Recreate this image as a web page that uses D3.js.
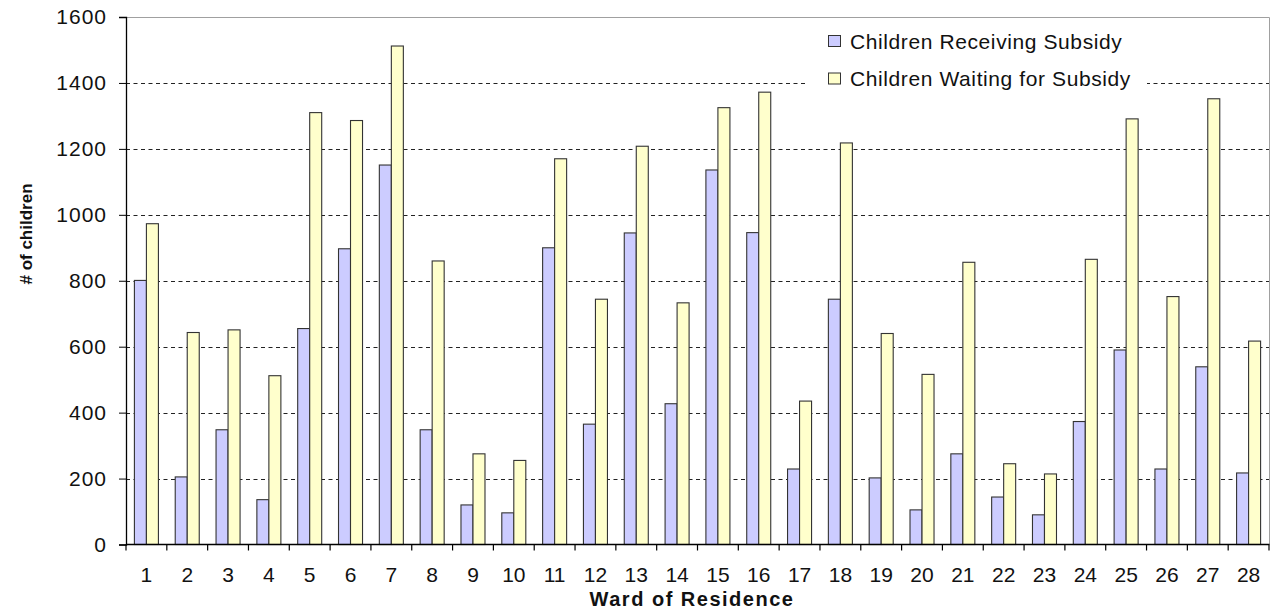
<!DOCTYPE html>
<html>
<head>
<meta charset="utf-8">
<script src="https://cdn.jsdelivr.net/npm/d3@7"></script>
<style>
  html, body { margin: 0; padding: 0; background: #fff; }
  svg { display: block; }
  text { font-family: "Liberation Sans", Arial, sans-serif; fill: #111; }
</style>
</head>
<body>
<svg id="chart" width="1276" height="611"></svg>
<script>
const wards = ["1","2","3","4","5","6","7","8","9","10","11","12","13","14","15","16","17","18","19","20","21","22","23","24","25","26","27","28"];
const receiving = [801, 205, 348, 136, 655, 897, 1151, 348, 120, 96, 900, 365, 945, 427, 1136, 946, 229, 744, 202, 105, 275, 144, 90, 373, 590, 229, 539, 217];
const waiting = [973, 643, 651, 512, 1310, 1286, 1512, 860, 275, 255, 1170, 744, 1208, 733, 1325, 1372, 435, 1218, 640, 516, 856, 245, 214, 865, 1291, 752, 1352, 617];
const seriesNames = ["Children Receiving Subsidy", "Children Waiting for Subsidy"];
const seriesColors = ["#ccccff", "#ffffcc"];
const yTicks = [0, 200, 400, 600, 800, 1000, 1200, 1400, 1600];

const svg = d3.select("#chart");
const L = 126, R = 1269, T = 17, B = 544.5;

const x0 = d3.scaleBand().domain(wards).range([L, R]).paddingInner(0).paddingOuter(0);
const x1 = d3.scaleBand().domain([0, 1]).range([0, x0.bandwidth()]).paddingInner(0).paddingOuter(0.7);
const y = d3.scaleLinear().domain([0, 1600]).range([B, T]);

// gridlines
svg.append("g").selectAll("line").data(yTicks.filter(v => v > 0 && v < 1600)).join("line")
  .attr("x1", L).attr("x2", R)
  .attr("y1", d => Math.round(y(d)) + 0.5).attr("y2", d => Math.round(y(d)) + 0.5)
  .attr("stroke", "#222").attr("stroke-width", 1.2).attr("stroke-dasharray", "4,3.5");

// plot border top & right
svg.append("path")
  .attr("d", `M${L},${T + 0.5}H${R + 0.5}V${B}`)
  .attr("fill", "none").attr("stroke", "#a0a0a0").attr("stroke-width", 1);

// legend background (white, covers gridline)
const legend = svg.append("g");
legend.append("rect").attr("x", 806).attr("y", 20).attr("width", 341).attr("height", 76).attr("fill", "#fff");

// bars
const data = wards.map((w, i) => ({ w, vals: [receiving[i], waiting[i]] }));
const groups = svg.append("g").selectAll("g").data(data).join("g")
  .attr("transform", d => `translate(${x0(d.w)},0)`);
groups.selectAll("rect").data(d => d.vals.map((v, k) => ({ v, k }))).join("rect")
  .attr("x", d => x1(d.k))
  .attr("width", x1.bandwidth())
  .attr("y", d => y(d.v))
  .attr("height", d => y(0) - y(d.v))
  .attr("fill", d => seriesColors[d.k])
  .attr("stroke", "#333").attr("stroke-width", 1.1);

// y axis
const yAxis = d3.axisLeft(y).tickValues(yTicks).tickSize(7).tickPadding(12).tickFormat(d3.format("d"));
const gy = svg.append("g").attr("transform", `translate(${L},0)`).call(yAxis);
gy.select(".domain").attr("stroke", "#000").attr("stroke-width", 1.3);
gy.selectAll(".tick line").attr("stroke", "#000");
gy.selectAll(".tick text").attr("font-size", 21).attr("letter-spacing", "1px")
  .attr("fill", "#222").style("font-family", "'Liberation Sans', Arial, sans-serif");

// x axis
const xAxis = d3.axisBottom(x0).tickSize(0).tickPadding(0);
const gx = svg.append("g").attr("transform", `translate(0,${B})`).call(xAxis);
gx.select(".domain").remove();
gx.append("line").attr("x1", L).attr("x2", R + 0.5).attr("y1", 0).attr("y2", 0).attr("stroke", "#000").attr("stroke-width", 1.3);
gx.selectAll(".tick text").attr("font-size", 21).attr("dy", null).attr("y", 37)
  .attr("fill", "#222").style("font-family", "'Liberation Sans', Arial, sans-serif");
// category boundary tick marks
gx.append("g").selectAll("line").data(d3.range(wards.length + 1)).join("line")
  .attr("x1", i => L + i * x0.step()).attr("x2", i => L + i * x0.step())
  .attr("y1", 0).attr("y2", 6).attr("stroke", "#000").attr("stroke-width", 1.2);

// axis titles
svg.append("text").attr("x", 692).attr("y", 606).attr("text-anchor", "middle")
  .attr("font-size", 20).attr("font-weight", "bold").attr("letter-spacing", "1.5px")
  .text("Ward of Residence");
svg.append("text").attr("transform", "translate(32,234) rotate(-90)").attr("text-anchor", "middle")
  .attr("font-size", 17).attr("font-weight", "bold")
  .text("# of children");

// legend items
seriesNames.forEach((name, k) => {
  const cy = 41 + k * 37.5;
  legend.append("rect").attr("x", 828.5).attr("y", cy - 5.5).attr("width", 12).attr("height", 11)
    .attr("fill", seriesColors[k]).attr("stroke", "#333").attr("stroke-width", 1);
  legend.append("text").attr("x", 850).attr("y", cy + 7.5).attr("font-size", 21).attr("letter-spacing", "0.6px")
    .attr("fill", "#222").text(name);
});
</script>
</body>
</html>
